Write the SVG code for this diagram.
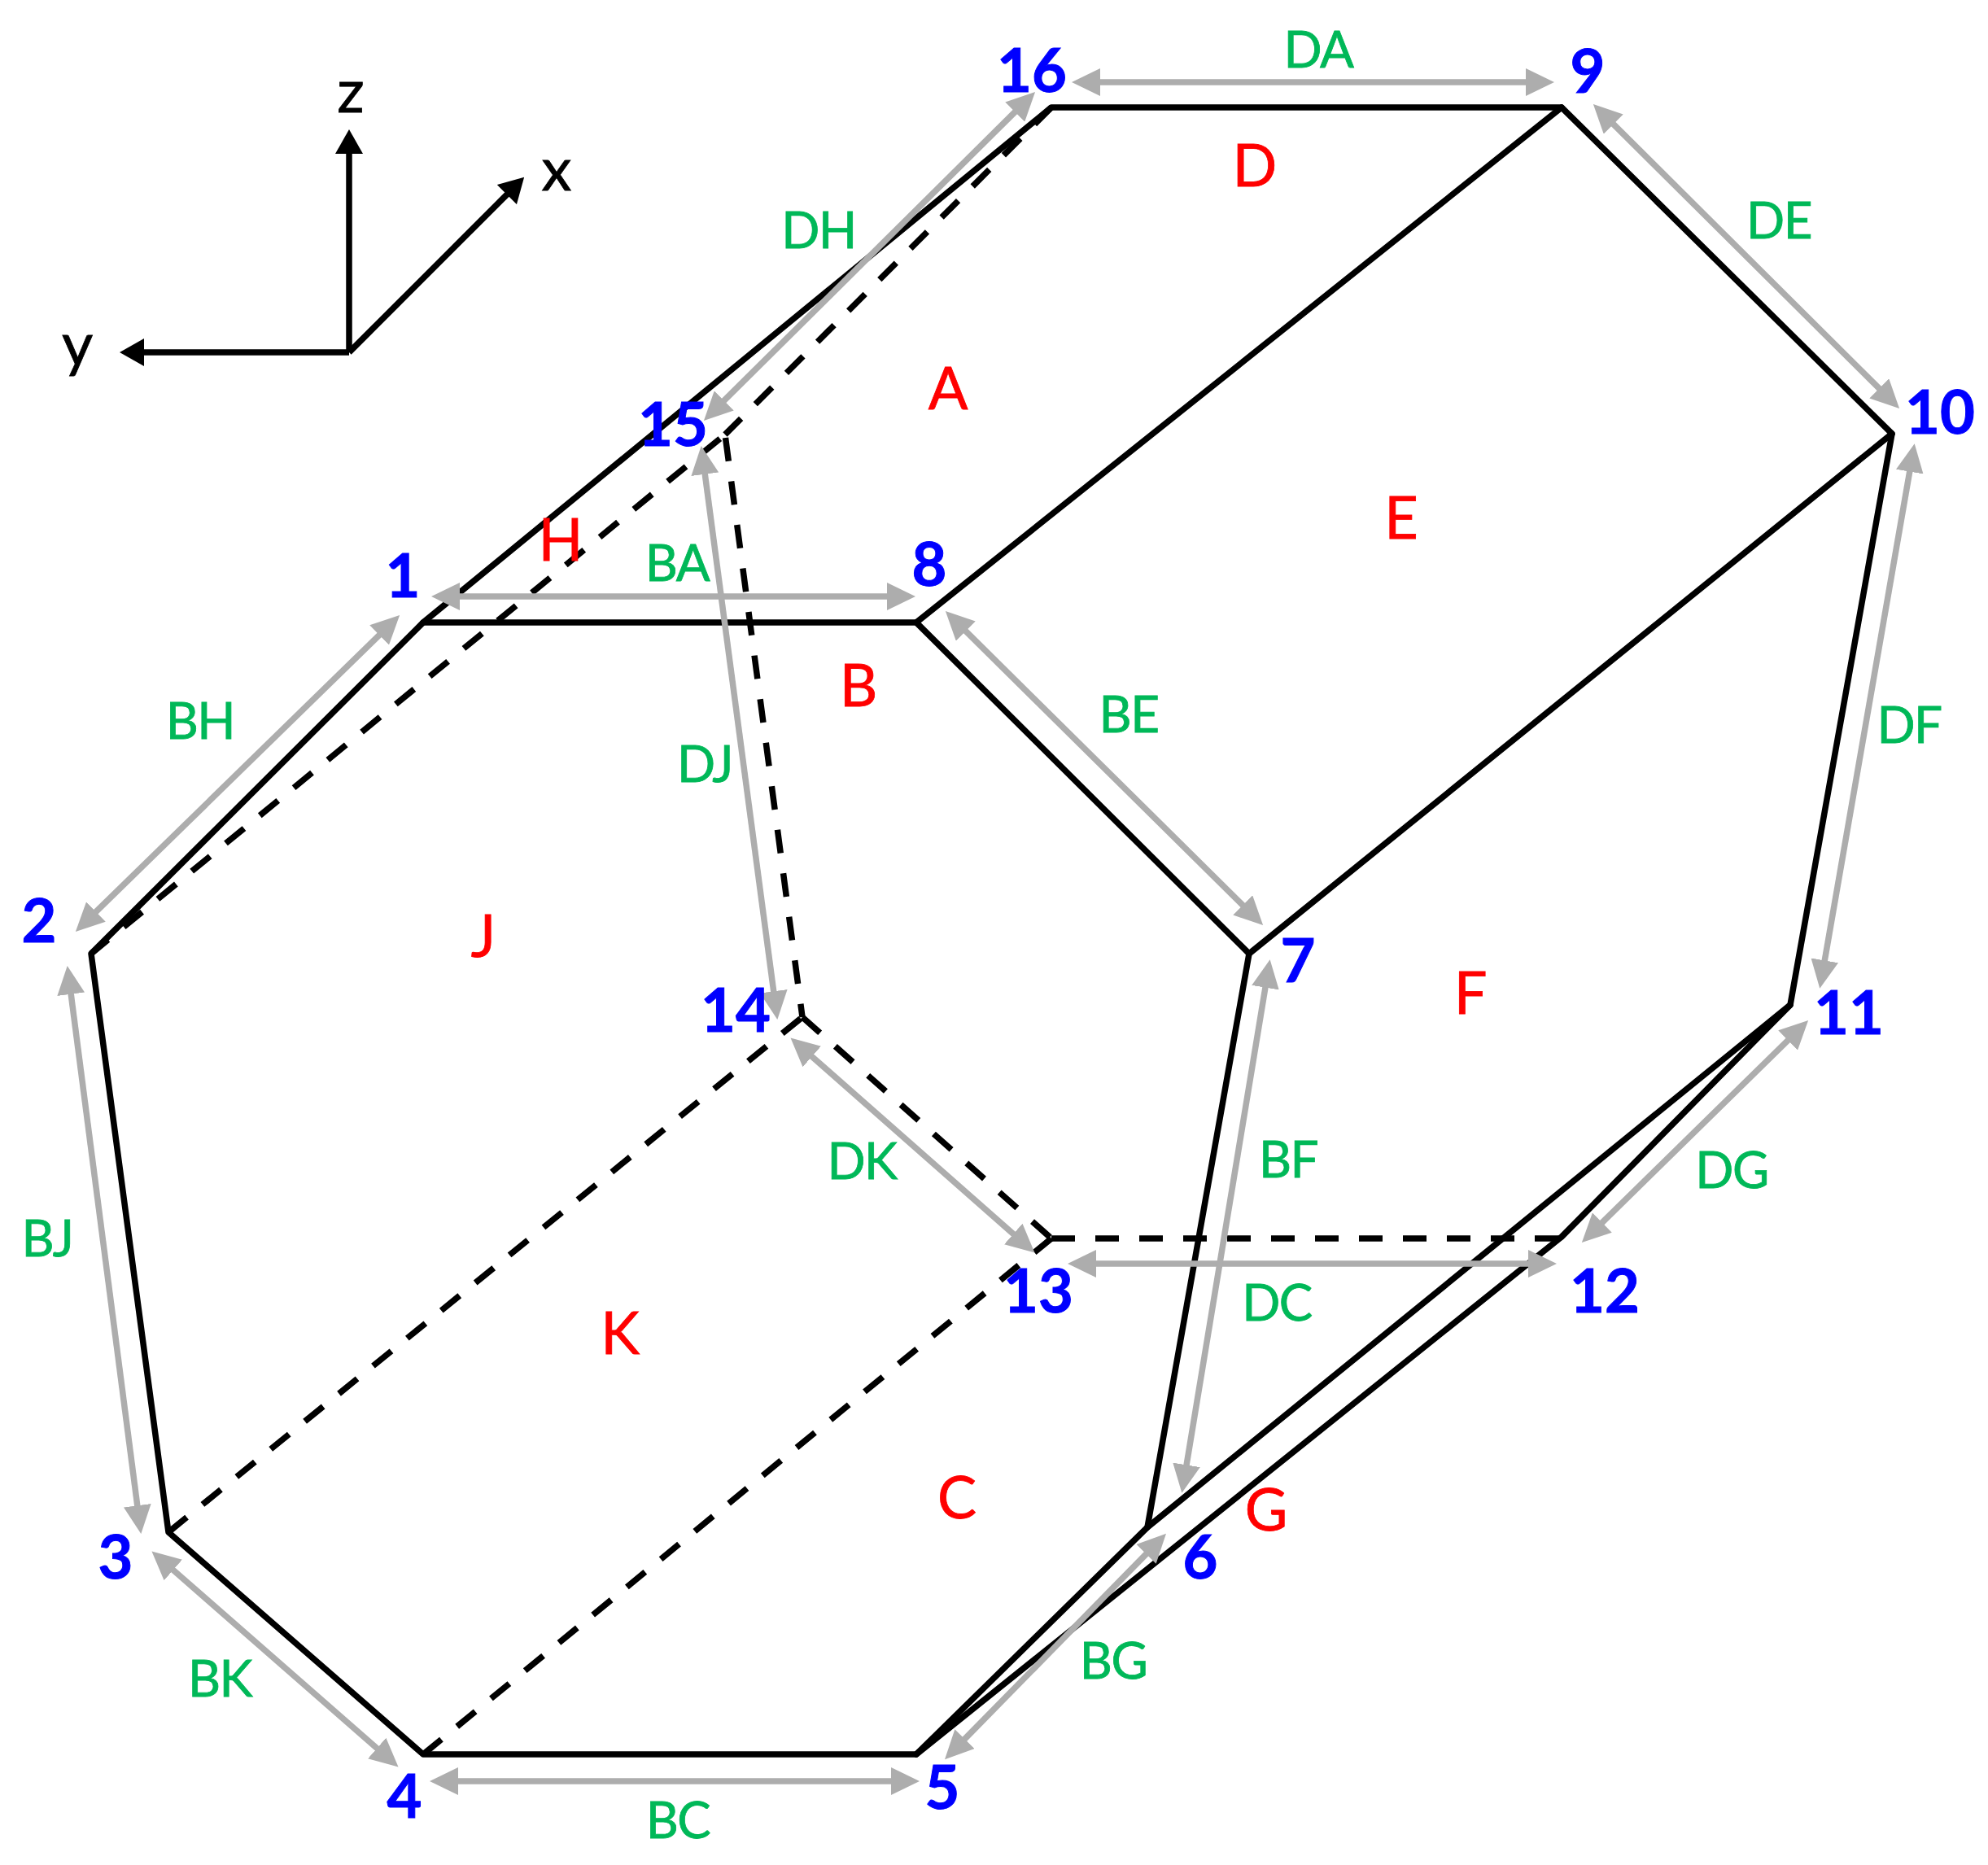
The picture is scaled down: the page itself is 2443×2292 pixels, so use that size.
<svg xmlns="http://www.w3.org/2000/svg" width="2443" height="2292" viewBox="0 0 2443 2292">
<style>
text{font-family:Lato,"Liberation Sans",sans-serif;text-anchor:middle}
.n{font-size:74px;font-weight:700;fill:#0000ff;stroke:#0000ff;stroke-width:1}
.f{font-size:72px;fill:#ff0000;stroke:#ff0000;stroke-width:.8}
.e{font-size:62px;fill:#00b858;stroke:#00b858;stroke-width:.8;letter-spacing:-1.5px}
.a{font-size:74px;fill:#000;stroke:#000;stroke-width:.8}
.s{fill:none;stroke:#000;stroke-width:7.5;stroke-linejoin:round;stroke-linecap:round}
.d{fill:none;stroke:#000;stroke-width:7.5;stroke-dasharray:29 25}
.g{stroke:#adadad;stroke-width:7.5;marker-start:url(#gh);marker-end:url(#gh)}
.x{stroke:#000;stroke-width:7.5;marker-end:url(#bh)}
</style>
<defs>
<marker id="gh" markerUnits="userSpaceOnUse" markerWidth="35" markerHeight="34" refX="25" refY="17" orient="auto-start-reverse"><path d="M0 0L35 17L0 34z" fill="#adadad"/></marker>
<marker id="bh" markerUnits="userSpaceOnUse" markerWidth="30" markerHeight="34" refX="10" refY="17" orient="auto"><path d="M0 0L30 17L0 34z" fill="#000"/></marker>
</defs>
<rect width="2443" height="2292" fill="#fff"/>
<g id="axes">
<line class="x" x1="429" y1="433" x2="429" y2="179"/>
<line class="x" x1="429" y1="433" x2="630" y2="232"/>
<line class="x" x1="429" y1="433" x2="167" y2="433"/>
<text class="a" x="431" y="138">z</text><text class="a" x="684" y="234">x</text><text class="a" x="95" y="449">y</text>
</g>
<g id="connectors">
<g id="hidden-edges">
<path class="d" stroke-dashoffset="-8" d="M891 534L112 1172"/><path class="d" d="M1292 132L891 534"/><path class="d" stroke-dashoffset="-4" d="M891 534L986 1250"/>
<path class="d" d="M986 1250L1292 1522"/><path class="d" d="M1292 1522H1919"/><path class="d" d="M207 1883L986 1250"/><path class="d" d="M520 2156L1292 1522"/>
</g>
<g id="solid-edges">
<path class="s" d="M112 1172L520 765H1126L1535 1172L1410 1877L1126 2156H520L207 1883Z"/>
<path class="s" d="M520 765L1292 132H1919L2325 533L2200 1235L1410 1877"/>
<path class="s" d="M2200 1235L1919 1520L1126 2156"/>
<path class="s" d="M1126 765L1919 132"/><path class="s" d="M1535 1172L2325 533"/>
</g>
<g id="edge-arrows">
<line id="BA-arrow" class="g" x1="540" y1="733" x2="1115" y2="733"/>
<line id="DA-arrow" class="g" x1="1327" y1="101" x2="1900" y2="101"/>
<line id="DE-arrow" class="g" x1="1965" y1="135" x2="2327" y2="495"/>
<line id="DF-arrow" class="g" x1="2351" y1="555" x2="2238" y2="1205"/>
<line id="DG-arrow" class="g" x1="2215" y1="1261" x2="1951" y2="1520"/>
<line id="DC-arrow" class="g" x1="1903" y1="1553" x2="1322" y2="1553"/>
<line id="DK-arrow" class="g" x1="1264" y1="1533" x2="979" y2="1282"/>
<line id="DJ-arrow" class="g" x1="863" y1="558" x2="954" y2="1243"/>
<line id="DH-arrow" class="g" x1="1265" y1="120" x2="872" y2="510"/>
<line id="BH-arrow" class="g" x1="484" y1="763" x2="100" y2="1138"/>
<line id="BJ-arrow" class="g" x1="84" y1="1197" x2="172" y2="1875"/>
<line id="BK-arrow" class="g" x1="194" y1="1913" x2="482" y2="2165"/>
<line id="BC-arrow" class="g" x1="538" y1="2189" x2="1120" y2="2189"/>
<line id="BG-arrow" class="g" x1="1426" y1="1892" x2="1168" y2="2155"/>
<line id="BF-arrow" class="g" x1="1559" y1="1189" x2="1454" y2="1825"/>
<line id="BE-arrow" class="g" x1="1169" y1="758" x2="1545" y2="1130"/>
</g>
</g>
<g id="vertices">
<g id="v1"><text class="n" x="495" y="734">1</text></g>
<g id="v2"><text class="n" x="48" y="1158">2</text></g>
<g id="v3"><text class="n" x="142" y="1940">3</text></g>
<g id="v4"><text class="n" x="497" y="2234">4</text></g>
<g id="v5"><text class="n" x="1158" y="2223">5</text></g>
<g id="v6"><text class="n" x="1475" y="1940">6</text></g>
<g id="v7"><text class="n" x="1595" y="1207">7</text></g>
<g id="v8"><text class="n" x="1142" y="720">8</text></g>
<g id="v9"><text class="n" x="1951" y="114">9</text></g>
<g id="v10"><text class="n" x="2384" y="533">10</text></g>
<g id="v11"><text class="n" x="2272" y="1271">11</text></g>
<g id="v12"><text class="n" x="1972" y="1613">12</text></g>
<g id="v13"><text class="n" x="1276" y="1613">13</text></g>
<g id="v14"><text class="n" x="904" y="1268">14</text></g>
<g id="v15"><text class="n" x="827" y="548">15</text></g>
<g id="v16"><text class="n" x="1268" y="113">16</text></g>
</g>
<g id="faces">
<g id="fA"><text class="f" x="1165" y="503">A</text></g>
<g id="fB"><text class="f" x="1055" y="868">B</text></g>
<g id="fC"><text class="f" x="1176" y="1866">C</text></g>
<g id="fD"><text class="f" x="1542" y="229">D</text></g>
<g id="fE"><text class="f" x="1722" y="662">E</text></g>
<g id="fF"><text class="f" x="1807" y="1246">F</text></g>
<g id="fG"><text class="f" x="1556" y="1881">G</text></g>
<g id="fH"><text class="f" x="689" y="689">H</text></g>
<g id="fJ"><text class="f" x="594" y="1176">J</text></g>
<g id="fK"><text class="f" x="762" y="1664">K</text></g>
</g>
<g id="edge-labels">
<text class="e" x="1620" y="83">DA</text><text class="e" x="2186" y="293">DE</text><text class="e" x="1006" y="305">DH</text>
<text class="e" x="2346" y="913">DF</text><text class="e" x="832" y="714">BA</text><text class="e" x="1387" y="900">BE</text>
<text class="e" x="246" y="908">BH</text><text class="e" x="866" y="961">DJ</text><text class="e" x="1059" y="1449">DK</text>
<text class="e" x="1583" y="1447">BF</text><text class="e" x="2128" y="1460">DG</text><text class="e" x="58" y="1544">BJ</text>
<text class="e" x="1569" y="1623">DC</text><text class="e" x="270" y="2085">BK</text><text class="e" x="1368" y="2063">BG</text><text class="e" x="833" y="2259">BC</text>
</g>
</svg>
